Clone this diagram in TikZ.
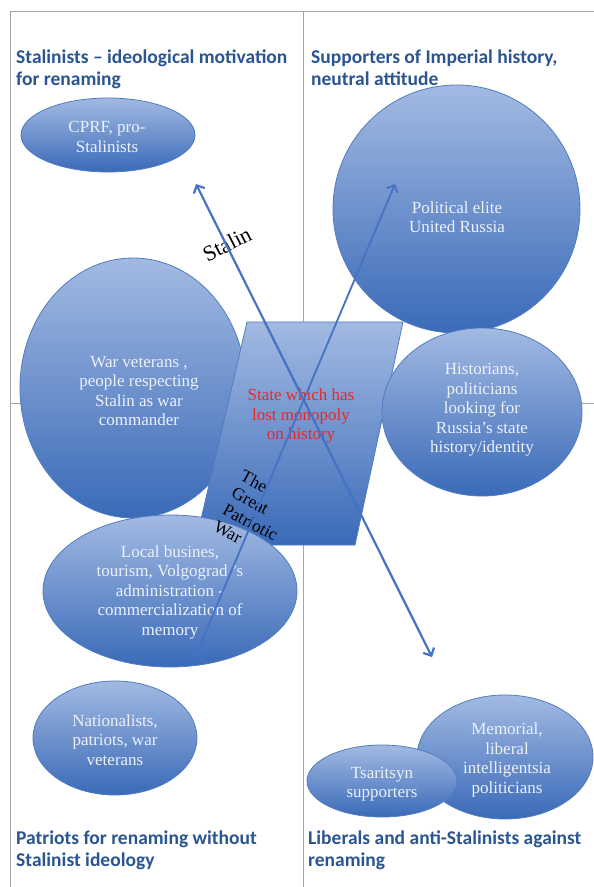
\documentclass[tikz,border=0pt]{standalone}
\usepackage{fontspec}
\setmainfont{Liberation Serif}
\newfontfamily\titlefont{Carlito}
\usetikzlibrary{shapes.geometric,arrows.meta}
\definecolor{titleblue}{RGB}{42,85,145}
\definecolor{blobtop}{RGB}{162,186,226}
\definecolor{blobbot}{RGB}{58,106,184}
\definecolor{blobedge}{RGB}{80,124,192}
\definecolor{blobtxt}{RGB}{236,241,250}
\definecolor{arrowblue}{RGB}{68,114,196}
\definecolor{framegray}{RGB}{165,165,165}
\definecolor{statered}{RGB}{232,40,40}
\begin{document}
\begin{tikzpicture}[x=1pt,y=-1pt]
\tikzset{
  blob/.style={ellipse, draw=blobedge, line width=0.8pt, top color=blobtop, bottom color=blobbot, inner sep=0pt},
  blobtext/.style={text=blobtxt, align=center, inner sep=0pt, font=\fontsize{17}{19.5}\selectfont},
  grouptitle/.style={text=titleblue, align=left, anchor=north west, inner sep=0pt, font=\titlefont\bfseries\fontsize{19.5}{22}\selectfont},
  framerule/.style={draw=framegray, line width=1pt},
  bigarrow/.style={draw=arrowblue, line width=2.2pt, {Straight Barb[length=6pt,width=12pt]}-{Straight Barb[length=6pt,width=12pt]}},
  arrowlabel/.style={text=black, inner sep=0pt, font=\fontsize{17.5}{19}\selectfont}
}
\useasboundingbox (0,0) rectangle (594,887);
\fill[white] (0,0) rectangle (594,887);
% quadrant frame
\draw[framerule] (10,887) -- (10,11) -- (594,11);
\draw[framerule] (303,11) -- (303,887);
\draw[framerule] (10,403) -- (594,403);
% war veterans
\node[blob, minimum width=226pt, minimum height=260pt] (vets) at (133,388) {};
\node[blobtext] (vetst) at (139,391) {War veterans ,\\people respecting\\Stalin as war\\commander};
% state parallelogram
\path[draw=blobedge, line width=0.8pt, top color=blobtop, bottom color=blobbot] (247,322) -- (403,322) -- (355,545) -- (195,545) -- cycle;
% other groups
\node[blob, minimum width=247pt, minimum height=248pt] (elite) at (456.5,209) {};
\node[blobtext] (elitet) at (457,217) {Political elite\\United Russia};
\node[blob, minimum width=200pt, minimum height=168pt] (hist) at (482,412) {};
\node[blobtext] (histt) at (482,410) {Historians,\\politicians\\looking for\\Russia's state\\history/identity};
\node[blob, minimum width=254pt, minimum height=152pt] (local) at (170,591) {};
\node[blobtext] (localt) at (170,592) {Local busines,\\tourism, Volgograd 's\\administration -\\commercialization of\\memory};
\node[blob, minimum width=174pt, minimum height=74pt] (cprf) at (108,135) {};
\node[blobtext] (cprft) at (107,137) {CPRF, pro-\\Stalinists};
\node[blob, minimum width=164pt, minimum height=114pt] (nat) at (115,738) {};
\node[blobtext] (natt) at (115,740) {Nationalists,\\patriots, war\\veterans};
\node[blob, minimum width=176pt, minimum height=124pt] (memo) at (505,757) {};
\node[blobtext] (memot) at (507,760) {Memorial,\\liberal\\intelligentsia\\politicians};
\node[blob, minimum width=150pt, minimum height=72pt] (tsar) at (382,781) {};
\node[blobtext] (tsart) at (382,784) {Tsaritsyn\\supporters};
% state text
\node[text=statered, align=center, inner sep=0pt, font=\fontsize{17}{19.5}\selectfont] (state) at (301,416) {State which has\\lost monopoly\\on history};
% arrow labels
\node[arrowlabel, rotate=27, font=\fontsize{22}{24}\selectfont] (stalin) at (227,244) {Stalin};
\node[arrowlabel, rotate=-28, align=left, anchor=north west] (gpw) at (245,469) {The\\Great\\Patriotic\\War};
% arrows
\coordinate (stalinA) at (196,184);
\coordinate (stalinB) at (432,657);
\coordinate (gpwA) at (395,184);
\coordinate (gpwB) at (195,657);
\draw[bigarrow] (stalinA) -- (stalinB);
\draw[bigarrow, line width=1.8pt] (gpwA) -- (gpwB);
% titles
\node[grouptitle] (tl) at (16,50) {Stalinists – ideological motivation\\for renaming};
\node[grouptitle] (tr) at (311,50) {Supporters of Imperial history,\\neutral attitude};
\node[grouptitle] (bl) at (16,831) {Patriots for renaming without\\Stalinist ideology};
\node[grouptitle] (br) at (308,831) {Liberals and anti-Stalinists against\\renaming};
\end{tikzpicture}
\end{document}
